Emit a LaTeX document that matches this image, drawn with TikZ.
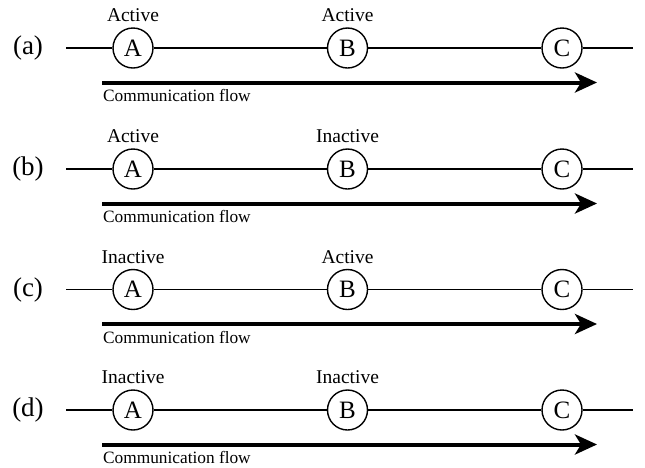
\documentclass[tikz,border=0pt]{standalone}
\usepackage{fontspec}
\setmainfont{Liberation Serif}
\usetikzlibrary{arrows.meta}
\begin{document}
\begin{tikzpicture}[x=1pt,y=-1pt,
  station/.style={draw,circle,minimum size=40pt,inner sep=0pt,line width=1.4pt,fill=white,font=\fontsize{25}{25}\selectfont},
  wire/.style={line width=1.6pt},
  flow/.style={line width=4pt,-{Stealth[length=22pt,width=20pt,inset=6pt]}},
  rowlabel/.style={inner sep=0pt,font=\fontsize{27}{27}\selectfont},
  statelabel/.style={inner sep=0pt,anchor=base,font=\fontsize{19.5}{19.5}\selectfont},
  flowlabel/.style={inner sep=0pt,anchor=base west,font=\fontsize{17.3}{17.3}\selectfont}]
\useasboundingbox (0,0) rectangle (645,467);
\foreach \r/\y/\la/\lb in {a/48/Active/Active, b/169/Active/Inactive, c/289.5/Inactive/Active, d/410/Inactive/Inactive}{
  \node[rowlabel] (lab\r) at (28,\y) {(\r)};
  \coordinate (L\r) at (66,\y);
  \coordinate (R\r) at (633,\y);
  \node[station] (A\r) at (133,\y) {A};
  \node[station] (B\r) at (347.5,\y) {B};
  \node[station] (C\r) at (562,\y) {C};
  \draw[wire] (L\r) -- (A\r) (A\r) -- (B\r) (B\r) -- (C\r) (C\r) -- (R\r);
  \node[statelabel] (sa\r) at (133,\y-26.5) {\la};
  \node[statelabel] (sb\r) at (347.5,\y-26.5) {\lb};
  \coordinate (FS\r) at (102,\y+34.5);
  \coordinate (FE\r) at (597,\y+34.5);
  \draw[flow] (FS\r) -- (FE\r);
  \node[flowlabel] (fl\r) at (103,\y+53.5) {Communication flow};
}
\end{tikzpicture}
\end{document}
